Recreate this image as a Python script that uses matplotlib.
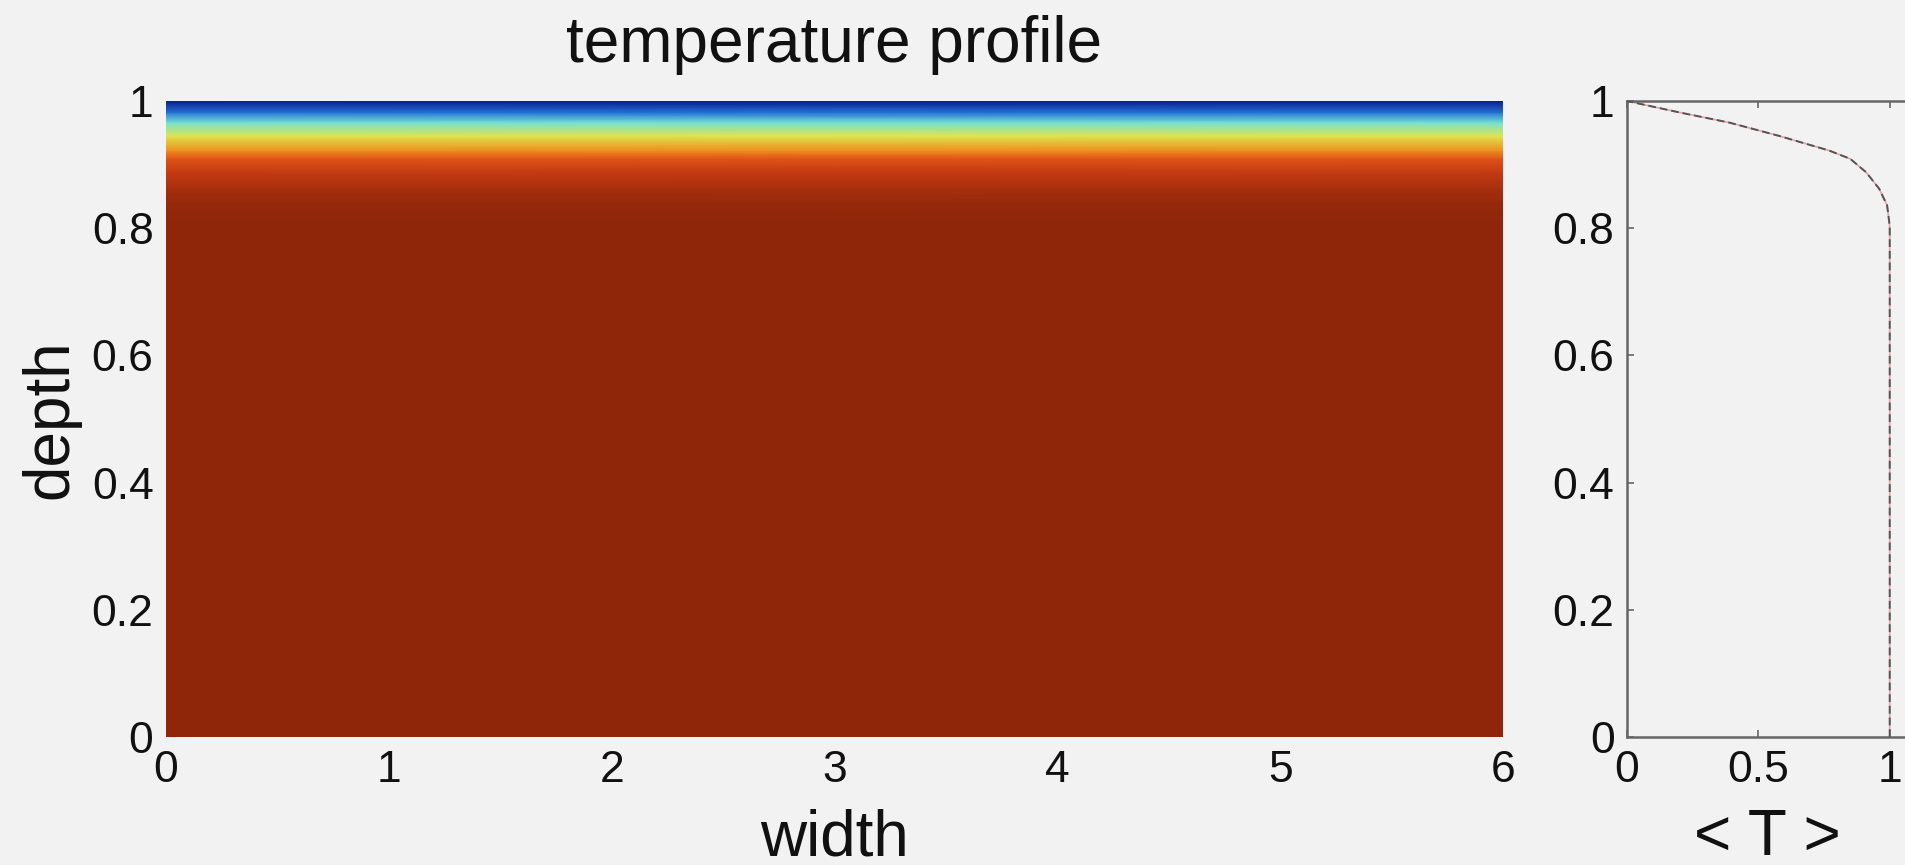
import numpy as np
import matplotlib
matplotlib.use("Agg")
import matplotlib.pyplot as plt
from matplotlib.colors import LinearSegmentedColormap

# horizontally averaged temperature
depth = [0.0, 0.80, 0.81, 0.836, 0.862, 0.888, 0.909, 0.922, 0.945, 0.966, 0.982, 1.0]
temp_mean = [1.0, 1.0, 0.998, 0.99, 0.96, 0.91, 0.85, 0.77, 0.58, 0.39, 0.2, 0.0]
width_edges = [0.0, 6.0]

xticks_main = [0, 1, 2, 3, 4, 5, 6]
yticks = [0, 0.2, 0.4, 0.6, 0.8, 1]
xticks_prof = [0, 0.5, 1]

BG = "#f2f2f2"
INK = "#111111"
SPINE = "#666666"

plt.rcParams["font.family"] = ["Liberation Sans", "DejaVu Sans"]

# jet-like map, toned to the video colours of the reference
cmap = LinearSegmentedColormap.from_list(
    "video_jet",
    [(0.0, "#0a1a8c"), (0.12, "#1040c0"), (0.25, "#3090e0"), (0.38, "#70e0d8"),
     (0.5, "#b8f090"), (0.62, "#f0e030"), (0.75, "#f0a020"), (0.87, "#dc4416"),
     (1.0, "#8f260a")],
)

W, H = 1905, 865
fig = plt.figure(figsize=(W / 100, H / 100), dpi=100)
fig.patch.set_facecolor(BG)


def frac(x0, y_top, x1, y_bot):
    return [x0 / W, 1 - y_bot / H, (x1 - x0) / W, (y_bot - y_top) / H]


# main temperature field
ax = fig.add_axes(frac(166, 101, 1503, 737))
ax.set_facecolor(BG)
X, Y = np.meshgrid(width_edges, depth)
C = np.tile(np.array(temp_mean)[:, None], (1, len(width_edges)))
ax.pcolormesh(X, Y, C, cmap=cmap, vmin=0, vmax=1, shading="gouraud")
ax.set_xlim(0, 6)
ax.set_ylim(0, 1)
ax.set_xticks(xticks_main)
ax.set_xticklabels([f"{v:g}" for v in xticks_main])
ax.set_yticks(yticks)
ax.set_yticklabels([f"{v:g}" for v in yticks])
ax.tick_params(length=0, labelsize=32, colors=INK, pad=9)
for s in ax.spines.values():
    s.set_visible(False)
ax.text(0.5, (737 - 62) / 636, "temperature profile", transform=ax.transAxes,
        ha="center", va="baseline", fontsize=46, color=INK)
ax.set_xlabel("width", fontsize=46, color=INK, va="baseline")
ax.xaxis.set_label_coords(0.5, -(855 - 737) / 636)
ax.set_ylabel("depth", fontsize=46, color=INK, va="center")
ax.yaxis.set_label_coords((50 - 166) / 1337, 0.5)

# mean profile panel (runs off the right edge, as in the reference)
ax2 = fig.add_axes(frac(1627, 101, 1627 + 289, 737))
ax2.set_facecolor(BG)
ax2.plot(temp_mean, depth, color="#e8a0a8", lw=1.2, zorder=2)
ax2.plot(temp_mean, depth, color="#555555", lw=1.4, ls=(0, (4, 2)), zorder=3)
ax2.set_xlim(0, 1.1)
ax2.set_ylim(0, 1)
ax2.set_xticks(xticks_prof)
ax2.set_xticklabels([f"{v:g}" for v in xticks_prof])
ax2.set_yticks(yticks)
ax2.set_yticklabels([f"{v:g}" for v in yticks])
ax2.tick_params(direction="in", length=5, width=1.2, color=SPINE,
                labelsize=32, labelcolor=INK, pad=9, top=True, right=True)
for s in ax2.spines.values():
    s.set_color(SPINE)
    s.set_linewidth(1.8)
ax2.set_xlabel("< T >", fontsize=46, color=INK, va="baseline")
ax2.xaxis.set_label_coords(0.536 / 1.1, -(855 - 737) / 636)

fig.savefig("out.png", dpi=100, facecolor=BG)
